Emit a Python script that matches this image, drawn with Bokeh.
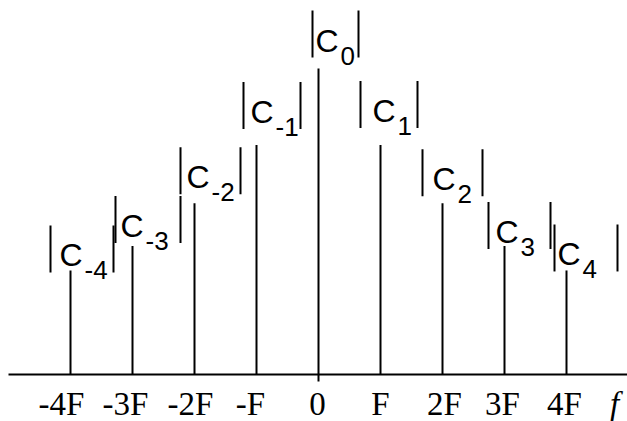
import numpy as np
from bokeh.plotting import figure
from bokeh.models import Range1d, ColumnDataSource
from bokeh.core.properties import value
from bokeh.embed import file_html
from bokeh.resources import INLINE

# ---- spectrum data -------------------------------------------------------
harmonics = [-4, -3, -2, -1, 0, 1, 2, 3, 4]            # multiples of F
tick_labels = ["-4F", "-3F", "-2F", "-F", "0", "F", "2F", "3F", "4F"]
magnitudes = [0.34, 0.42, 0.56, 0.75, 1.0, 0.75, 0.56, 0.42, 0.34]  # |C_n|
subscripts = ["-4", "-3", "-2", "-1", "0", "1", "2", "3", "4"]
axis_name = "f"

# ---- layout ----------------------------------------------------------------
W, H = 627, 421
PX_PER_F = 62.0        # horizontal pixels per harmonic step
PX_PER_UNIT = 306.0    # vertical pixels per magnitude unit
ORIGIN_X = 318.0       # pixel column of f = 0
AXIS_Y = 374.0         # pixel row of the frequency axis

# per-label placement of "|C_n|" relative to the top of its line, in pixels:
# (left bar, right bar, bar bottom (down = +), gap between left bar and C)
label_geom = [
    (-20, 43, 2, 9),
    (-17, 48, -3, 5),
    (-14, 46, -9, 6),
    (-13, 44, -16, 7),
    (-6, 40, -11, 3),
    (-20, 37, -17, 12),
    (-20, 40, -7, 10),
    (-16, 46, 3, 7),
    (-12, 51, 1, 3),
]
tick_shift = [-9, -7, -4, -6, -1, 0, 2, -2, -2]  # horizontal nudge of tick labels, px
BAR_H = 47             # height of the magnitude bars, px
C_WIDTH = 24           # advance of the "C", px


def dx(px):
    return px / PX_PER_F


def dy(px_down):
    return -px_down / PX_PER_UNIT


x_range = Range1d(-ORIGIN_X / PX_PER_F, (W - ORIGIN_X) / PX_PER_F)
y_range = Range1d(-(H - AXIS_Y) / PX_PER_UNIT, AXIS_Y / PX_PER_UNIT)

p = figure(width=W, height=H, x_range=x_range, y_range=y_range,
           min_border=0, x_axis_location=None, y_axis_location=None,
           toolbar_location=None, output_backend="svg",
           outline_line_color=None, background_fill_color="white",
           border_fill_color="white")
for r in p.center:
    r.visible = False

INK = "#000000"

# frequency axis and the small stub below the origin
p.segment(x0=[x_range.start + dx(8)], y0=[0], x1=[x_range.end], y1=[0],
          line_color=INK, line_width=2)
p.segment(x0=[0], y0=[0], x1=[0], y1=[dy(7)], line_color=INK, line_width=2)

# spectral lines
src = ColumnDataSource(dict(x=harmonics, top=magnitudes,
                            zero=[0] * len(harmonics)))
p.segment(x0="x", y0="zero", x1="x", y1="top", source=src,
          line_color=INK, line_width=2)

# tick labels under the axis (anchored at their vertical middle)
tick_x = [h + dx(s) for h, s in zip(harmonics, tick_shift)]
tick_y = [dy(29)] * len(harmonics)
p.text(x=tick_x, y=tick_y, text=tick_labels, text_align="center",
       text_baseline="middle", text_font=value("Liberation Serif"),
       text_font_size="33px", text_color=INK)
p.text(x=[x_range.end - dx(13)], y=[dy(29)], text=[axis_name],
       text_align="center", text_baseline="middle",
       text_font=value("Liberation Serif"), text_font_style="italic",
       text_font_size="33px", text_color=INK)

# |C_n| labels
bx0, by0, by1 = [], [], []
cx, cy, sx, sy = [], [], [], []
for h, m, (lb, rb, bb, gap) in zip(harmonics, magnitudes, label_geom):
    bottom = m + dy(bb)
    for b in (lb, rb):
        bx0.append(h + dx(b))
        by0.append(bottom)
        by1.append(bottom + BAR_H / PX_PER_UNIT)
    cx.append(h + dx(lb + gap))
    cy.append(bottom + dy(-17))
    sx.append(h + dx(lb + gap + C_WIDTH + 1))
    sy.append(bottom + dy(-2))

p.segment(x0=bx0, y0=by0, x1=bx0, y1=by1, line_color=INK, line_width=2)
p.text(x=cx, y=cy, text=["C"] * len(cx), text_align="left",
       text_baseline="middle", text_font=value("Liberation Sans"),
       text_font_size="32px", text_color=INK)
p.text(x=sx, y=sy, text=subscripts, text_align="left",
       text_baseline="middle", text_font=value("Liberation Sans"),
       text_font_size="26px", text_color=INK)

open("out.html", "w").write(file_html(p, INLINE))
